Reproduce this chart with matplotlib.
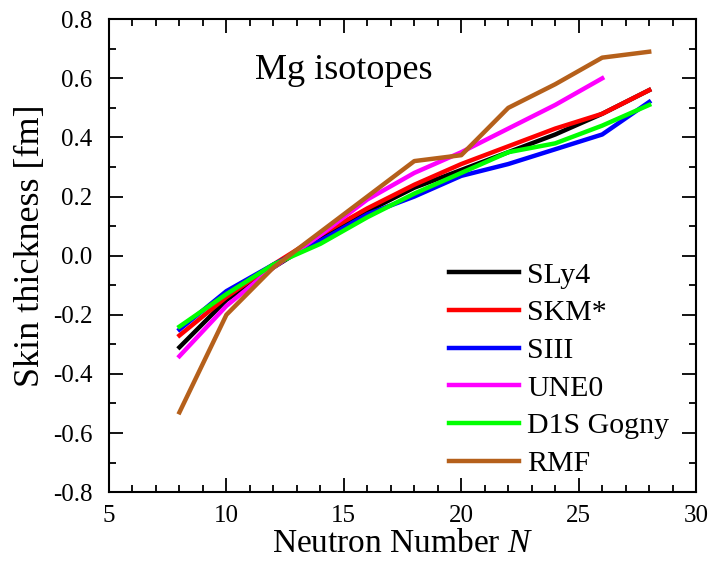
import numpy as np
import matplotlib
matplotlib.use("Agg")
import matplotlib.pyplot as plt
from matplotlib.ticker import MultipleLocator, FormatStrFormatter

plt.rcParams['font.family'] = ['Liberation Serif', 'DejaVu Serif']
plt.rcParams['axes.unicode_minus'] = False
plt.rcParams['mathtext.fontset'] = 'custom'
plt.rcParams['mathtext.it'] = 'Liberation Serif:italic'

# neutron numbers
N = [8, 10, 12, 14, 16, 18, 20, 22, 24, 26, 28]
N_une0 = [8, 10, 12, 14, 16, 18, 20, 22, 24, 26]

# skin thickness [fm]
sly4 = [-0.31, -0.15, -0.04, 0.06, 0.15, 0.23, 0.29, 0.35, 0.41, 0.48, 0.56]
skm = [-0.27, -0.14, -0.03, 0.07, 0.16, 0.24, 0.31, 0.37, 0.43, 0.48, 0.56]
siii = [-0.25, -0.12, -0.03, 0.05, 0.14, 0.20, 0.27, 0.31, 0.36, 0.41, 0.52]
une0 = [-0.34, -0.17, -0.04, 0.07, 0.19, 0.28, 0.35, 0.43, 0.51, 0.60]
d1s = [-0.24, -0.13, -0.03, 0.04, 0.13, 0.21, 0.28, 0.35, 0.38, 0.44, 0.51]
rmf = [-0.53, -0.20, -0.04, 0.08, 0.20, 0.32, 0.34, 0.50, 0.58, 0.67, 0.69]

fig = plt.figure(figsize=(7.1, 5.65), dpi=100)
ax = fig.add_axes([0.1535, 0.129, 0.827, 0.837])

ax.plot(N, sly4, color='black', lw=3.2, label='SLy4')
ax.plot(N, skm, color='#ff0000', lw=3.2, label='SKM*')
ax.plot(N, siii, color='#0000ff', lw=3.2, label='SIII')
ax.plot(N_une0, une0, color='#ff00ff', lw=3.2, label='UNE0')
ax.plot(N, d1s, color='#00ff00', lw=3.2, label='D1S Gogny')
ax.plot(N, rmf, color='#b5601b', lw=3.2, label='RMF')

ax.set_xlim(5, 30)
ax.set_ylim(-0.8, 0.8)
ax.xaxis.set_major_locator(MultipleLocator(5))
ax.xaxis.set_minor_locator(MultipleLocator(1))
ax.yaxis.set_major_locator(MultipleLocator(0.2))
ax.yaxis.set_minor_locator(MultipleLocator(0.1))
ax.yaxis.set_major_formatter(FormatStrFormatter('%.1f'))
ax.tick_params(which='both', direction='in', top=True, right=True, width=1.3, labelsize=18)
ax.tick_params(which='major', length=10)
ax.tick_params(which='minor', length=5)
ax.tick_params(axis='y', which='major', pad=12)
ax.tick_params(axis='x', which='major', pad=9)
for s in ax.spines.values():
    s.set_linewidth(1.5)

ax.set_xlabel('Neutron Number $\\mathit{N}$', fontsize=24, labelpad=1)
ax.set_ylabel('Skin thickness [fm]', fontsize=26)
ax.yaxis.set_label_coords(-0.106, 0.52)
ax.text(0.249, 0.873, 'Mg isotopes', transform=ax.transAxes, fontsize=26, va='baseline')

ax.legend(loc='lower left', frameon=False, fontsize=21.5, handlelength=2.34,
          handletextpad=0.27, labelspacing=0.36, borderaxespad=0, borderpad=0,
          bbox_to_anchor=(0.579, 0.032))

fig.savefig('out.png', dpi=100)
